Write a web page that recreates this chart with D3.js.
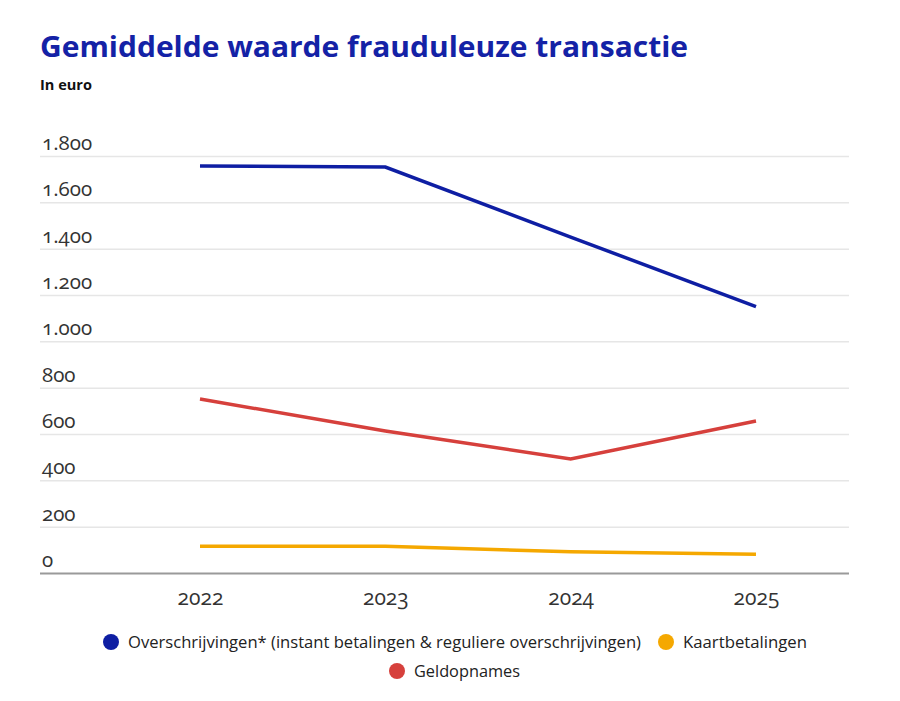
<!DOCTYPE html>
<html><head><meta charset="utf-8">
<script src="https://cdn.jsdelivr.net/npm/d3@7"></script>
<style>
body{margin:0;background:#fff;}
svg{display:block;}
.sans{font-family:"Open Sans","Noto Sans",sans-serif;}
.num{font-family:"Open Sans","Noto Sans",sans-serif;font-feature-settings:"onum" 1;}
</style></head>
<body>
<svg id="chart" width="900" height="701"></svg>
<script>
const years = ["2022","2023","2024","2025"];
const overschrijvingen = [1757, 1752, 1450, 1150];
const geldopnames = [751, 613, 492, 656];
const kaartbetalingen = [115, 115, 92, 81];
const yTicks = [0,200,400,600,800,1000,1200,1400,1600,1800];
const seriesNames = ["Overschrijvingen* (instant betalingen & reguliere overschrijvingen)","Kaartbetalingen","Geldopnames"];
const colors = ["#0e1ea3","#f5a800","#d6403c"];

const svg = d3.select("#chart");
const x = d3.scalePoint().domain(years).range([200,756]);
const y = d3.scaleLinear().domain([0,1800]).range([573,156]);
const fmt = v => d3.format(",")(v).replace(/,/g,".");

svg.append("text").attr("class","sans").attr("x",40).attr("y",57)
  .attr("font-size",29).attr("font-weight","bold").attr("fill","#1422a6")
  .attr("textLength",648).attr("lengthAdjust","spacingAndGlyphs")
  .text("Gemiddelde waarde frauduleuze transactie");
svg.append("text").attr("class","sans").attr("x",40).attr("y",90)
  .attr("font-size",15).attr("font-weight","bold").attr("fill","#111")
  .attr("textLength",52).attr("lengthAdjust","spacingAndGlyphs")
  .text("In euro");

// gridlines
const yAxis = d3.axisLeft(y).tickValues(yTicks).tickSize(-809).tickFormat("");
const gy = svg.append("g").attr("transform","translate(40,0)").call(yAxis);
gy.select(".domain").remove();
gy.selectAll(".tick line")
  .attr("stroke", d => d===0 ? "#9a9a9a" : "#e6e6e6")
  .attr("stroke-width", d => d===0 ? 2 : 1.5);

// y labels
svg.append("g").selectAll("text").data(yTicks).join("text")
  .attr("class","num").attr("x",42).attr("y",d=>y(d)-6)
  .attr("font-size",20.5).attr("fill","#333").text(fmt);

// x axis labels
const xAxis = d3.axisBottom(x).tickSize(0).tickPadding(17);
const gx = svg.append("g").attr("transform","translate(0,573)").call(xAxis);
gx.select(".domain").remove();
gx.selectAll("text").attr("class","num").attr("font-size",21).attr("fill","#333");

const line = d3.line().x((d,i)=>x(years[i])).y(d=>y(d));
[[overschrijvingen,colors[0]],[geldopnames,colors[2]],[kaartbetalingen,colors[1]]].forEach(([vals,c])=>{
  svg.append("path").datum(vals).attr("d",line).attr("fill","none")
    .attr("stroke",c).attr("stroke-width",3.5);
});

// legend
const legend = [
  {name:seriesNames[0], color:colors[0], cx:111, cy:642, w:513},
  {name:seriesNames[1], color:colors[1], cx:666, cy:642, w:124},
  {name:seriesNames[2], color:colors[2], cx:397, cy:671, w:106}
];
const lg = svg.append("g");
legend.forEach(l=>{
  lg.append("circle").attr("cx",l.cx).attr("cy",l.cy).attr("r",8).attr("fill",l.color);
  lg.append("text").attr("class","sans").attr("x",l.cx+17).attr("y",l.cy+6)
    .attr("font-size",16).attr("fill","#222")
    .attr("textLength",l.w).attr("lengthAdjust","spacingAndGlyphs").text(l.name);
});
</script>
</body></html>
